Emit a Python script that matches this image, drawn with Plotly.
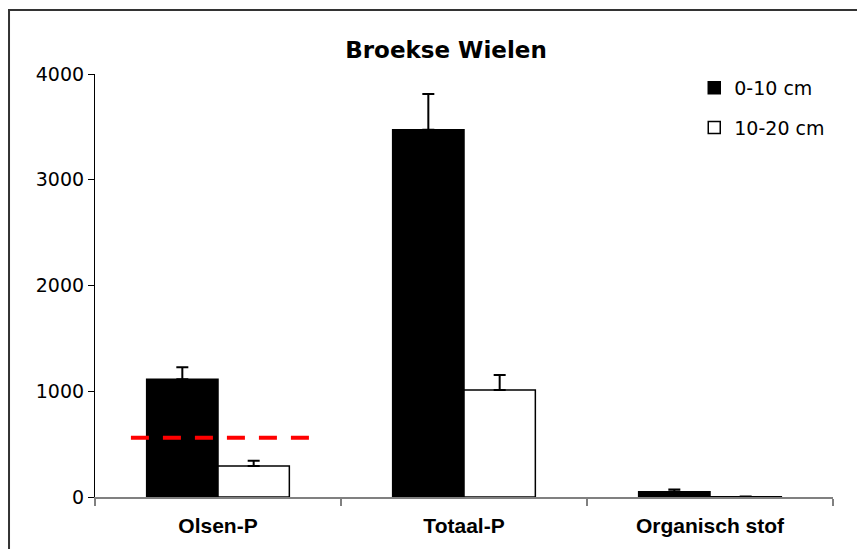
import plotly.graph_objects as go

categories = ["Olsen-P", "Totaal-P", "Organisch stof"]
series_names = ["0-10 cm", "10-20 cm"]
values_0_10 = [1113, 3473, 50]
errors_0_10 = [113, 338, 20]
values_10_20 = [293, 1012, 2]
errors_10_20 = [50, 142, 2]
threshold_value = 560
threshold_span = [-0.354, 0.374]
y_ticks = [0, 1000, 2000, 3000, 4000]

fig = go.Figure()
fig.add_trace(go.Bar(
    x=categories, y=values_0_10, name=series_names[0],
    marker=dict(color="black", line=dict(color="black", width=1.5)),
    error_y=dict(type="data", symmetric=False, array=errors_0_10,
                 arrayminus=[0] * 3, color="black", thickness=2, width=6),
    legendgroup="a",
))
fig.add_trace(go.Bar(
    x=categories, y=values_10_20, name=series_names[1],
    marker=dict(color="white", line=dict(color="black", width=1.5)),
    error_y=dict(type="data", symmetric=False, array=errors_10_20,
                 arrayminus=[0] * 3, color="black", thickness=2, width=6),
    legendgroup="b",
))

fig.add_shape(type="line", xref="x", yref="y",
              x0=threshold_span[0], x1=threshold_span[1],
              y0=threshold_value, y1=threshold_value,
              line=dict(color="#ff0000", width=4, dash="18px,14px"))

# outer frame
fig.add_shape(type="rect", xref="paper", yref="paper",
              x0=-0.1165, x1=1.08, y0=-0.3, y1=1.1513,
              line=dict(color="#333333", width=2), layer="below")

fig.update_layout(
    width=865, height=549,
    margin=dict(l=87, r=40, t=66, b=60),
    paper_bgcolor="white", plot_bgcolor="white",
    barmode="group", bargap=0.42, bargroupgap=0,
    title=dict(text="<b>Broekse Wielen</b>", x=438 / 865, xref="container",
               y=1 - 42 / 549, yref="container", xanchor="center", yanchor="middle",
               font=dict(family="DejaVu Sans", size=23, color="black")),
    font=dict(family="DejaVu Sans", color="black"),
    legend=dict(x=0.812, y=1.012, xanchor="left", yanchor="top",
                font=dict(family="DejaVu Sans", size=19, color="black"),
                tracegroupgap=12, traceorder="grouped", bgcolor="rgba(0,0,0,0)"),
    showlegend=True,
)
fig.update_xaxes(
    showline=True, linecolor="#808080", linewidth=1.5,
    ticks="outside", tickson="boundaries", ticklen=7, tickcolor="#808080", tickwidth=1.5,
    tickfont=dict(family="Liberation Sans", size=21, color="black"),
    ticklabelstandoff=9,
    showgrid=False, zeroline=False,
)
fig.update_yaxes(
    range=[0, 4000], tickvals=y_ticks,
    showline=True, linecolor="black", linewidth=1.2,
    ticks="outside", ticklen=6, tickcolor="black", tickwidth=1.2,
    tickfont=dict(family="DejaVu Sans", size=19, color="black"),
    showgrid=False, zeroline=False,
)
fig.update_xaxes(tickvals=categories, ticktext=["<b>%s</b>" % c for c in categories])

fig.write_html("out.html")
